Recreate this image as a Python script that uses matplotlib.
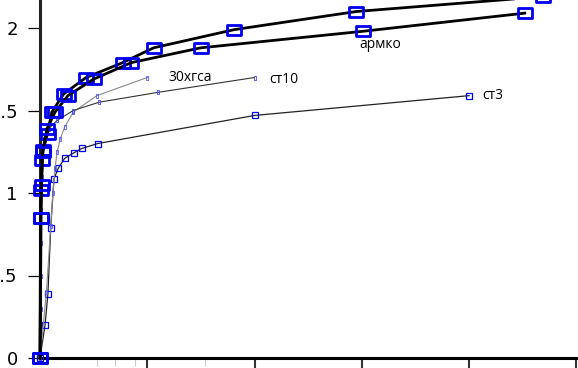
import matplotlib
matplotlib.use("Agg")
import matplotlib.pyplot as plt
from matplotlib.path import Path

# ---- data ----
armko1_x = [0, 0.005, 0.01, 0.02, 0.03, 0.07, 0.11, 0.22, 0.43, 0.77, 1.06, 1.81, 2.95, 4.69]
armko1_y = [0, 0.85, 1.02, 1.20, 1.26, 1.36, 1.49, 1.60, 1.70, 1.79, 1.88, 1.99, 2.10, 2.19]

armko2_x = [0, 0.01, 0.015, 0.025, 0.065, 0.14, 0.26, 0.50, 0.85, 1.50, 3.01, 4.52]
armko2_y = [0, 0.85, 1.05, 1.25, 1.39, 1.49, 1.59, 1.69, 1.79, 1.88, 1.98, 2.09]

st3_x = [0, 0.047, 0.074, 0.10, 0.13, 0.17, 0.23, 0.32, 0.39, 0.54, 2.0, 4.0]
st3_y = [0, 0.20, 0.39, 0.79, 1.085, 1.15, 1.21, 1.245, 1.27, 1.30, 1.47, 1.59]

st10_x = [0, 0.005, 0.008, 0.010, 0.012, 0.015, 0.02, 0.04, 0.08, 0.16, 0.31, 0.55, 1.10, 2.0]
st10_y = [0, 0.30, 0.50, 0.70, 0.90, 1.10, 1.25, 1.33, 1.39, 1.44, 1.50, 1.55, 1.61, 1.70]

xgsa_x = [0, 0.06, 0.10, 0.12, 0.14, 0.16, 0.19, 0.23, 0.31, 0.53, 1.0]
xgsa_y = [0, 0.40, 0.80, 1.00, 1.15, 1.25, 1.33, 1.40, 1.49, 1.59, 1.70]

labels = ["армко", "30хгса", "ст10", "ст3"]
label_x = [2.98, 1.20, 2.14, 4.12]
label_y = [1.90, 1.70, 1.685, 1.59]

y_ticks = [0, 0.5, 1, 1.5, 2]
y_ticklabels = ["0", "0.5", "1", "1.5", "2"]
x_ticks = [1, 2, 3, 4, 5]

# ---- figure ----
W, H = 578, 368
fig = plt.figure(figsize=(W / 100, H / 100), dpi=100)
ax = fig.add_axes([40 / W, 10 / H, (W - 40) / W, 358 / H])
ax.set_xlim(0, 538 / 107.25)
ax.set_ylim(0, 358 / 165)

wide_rect = Path([(-1.4, -1), (1.4, -1), (1.4, 1), (-1.4, 1), (-1.4, -1)],
                 [Path.MOVETO, Path.LINETO, Path.LINETO, Path.LINETO, Path.CLOSEPOLY])
tall_rect = Path([(-0.6, -1), (0.6, -1), (0.6, 1), (-0.6, 1), (-0.6, -1)],
                 [Path.MOVETO, Path.LINETO, Path.LINETO, Path.LINETO, Path.CLOSEPOLY])

blue = "#0000ee"

ax.plot(st3_x, st3_y, color="#222222", lw=0.9, marker="s", ms=4.2,
        mfc="none", mec=blue, mew=0.9, clip_on=False, zorder=3)
ax.plot(xgsa_x, xgsa_y, color="#8a8a8a", lw=0.8, marker=tall_rect, ms=3.5,
        mfc="none", mec="#5555ff", mew=0.6, clip_on=False, zorder=3)
ax.plot(st10_x, st10_y, color="#333333", lw=0.8, marker=tall_rect, ms=3.5,
        mfc="none", mec="#4444ff", mew=0.6, clip_on=False, zorder=3)
ax.plot(armko1_x, armko1_y, color="black", lw=2.0, marker=wide_rect, ms=10,
        mfc="none", mec=blue, mew=2.0, clip_on=False, zorder=4)
ax.plot(armko2_x, armko2_y, color="black", lw=2.0, marker=wide_rect, ms=10,
        mfc="none", mec=blue, mew=2.0, clip_on=False, zorder=4)

for t, x, y in zip(labels, label_x, label_y):
    ax.text(x, y, t, ha="left", va="center", fontsize=10,
            family=["Open Sans", "DejaVu Sans"], color="black")

for s in ["top", "right"]:
    ax.spines[s].set_visible(False)
ax.spines["left"].set_linewidth(2.2)
ax.spines["left"].set_color("#222222")
ax.spines["bottom"].set_linewidth(2.2)
ax.spines["bottom"].set_color("black")
ax.spines["left"].set_zorder(2)

ax.set_yticks(y_ticks)
ax.set_yticklabels(y_ticklabels, fontsize=13, family="DejaVu Sans")
ax.tick_params(axis="y", direction="out", length=9, width=0.9, pad=7, color="black")
ax.set_xticks(x_ticks)
ax.set_xticklabels([])
ax.tick_params(axis="x", direction="out", length=8, width=1.5, color="#333333")
ax.set_xticks([0.53, 0.70, 0.89, 1.54], minor=True)
ax.tick_params(axis="x", which="minor", direction="out", length=6, width=0.8, color="#cccccc")

fig.savefig("out.png", dpi=100)
